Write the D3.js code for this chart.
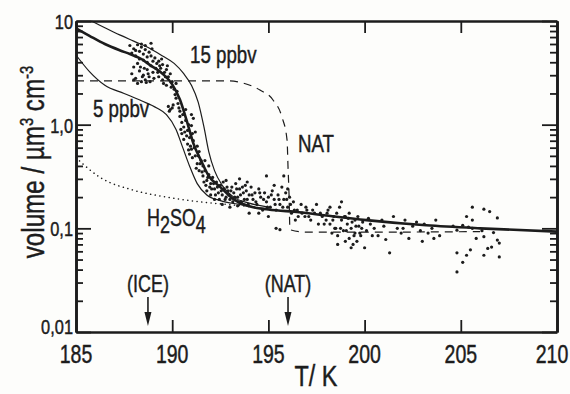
<!DOCTYPE html>
<html>
<head>
<meta charset="utf-8">
<script src="https://cdn.jsdelivr.net/npm/d3@7"></script>
<style>
  body { margin: 0; background: #fdfdfb; }
  svg { display: block; }
  text { font-family: "Liberation Sans", Arial, sans-serif; fill: #1c1c1c; stroke: #1c1c1c; stroke-width: 0.45; }
</style>
</head>
<body>
<script>
// axis ticks
const xTicks = [185, 190, 195, 200, 205, 210];
const yTicks = [0.01, 0.1, 1, 10];
const yTickLabels = ["0,01", "0,1", "1,0", "10"];

// model curves [T (K), volume (µm³ cm⁻³)]
const curve10 = [[185, 8.5], [185.7, 7.2], [186.5, 6.0], [187.3, 5.2], [187.8, 4.8], [188.4, 4.3],
  [188.85, 3.75], [189.5, 3.1], [190.0, 2.45], [190.4, 1.75], [190.75, 1.1], [191.1, 0.66],
  [191.5, 0.45], [191.9, 0.32], [192.5, 0.25], [193.2, 0.19], [194.0, 0.163], [195.0, 0.152],
  [196.6, 0.143], [198.0, 0.133], [200.1, 0.12], [203.2, 0.107], [206.0, 0.1], [210, 0.093]];
const curve5 = [[185, 4.7], [185.7, 3.25], [186.5, 2.4], [187.5, 2.0], [188.4, 1.7], [189.2, 1.45],
  [189.7, 1.25], [190.2, 0.9], [190.55, 0.6], [190.9, 0.4], [191.3, 0.27], [191.8, 0.21],
  [192.5, 0.185], [193.5, 0.17], [194.5, 0.158], [195.5, 0.15]];
const curve15 = [[185.8, 10], [186.5, 8.6], [187.3, 7.3], [188.0, 6.4], [188.8, 5.5], [189.5, 4.6],
  [190.1, 3.9], [190.6, 3.1], [191.0, 2.4], [191.35, 1.65], [191.65, 0.95], [191.9, 0.55],
  [192.2, 0.36], [192.6, 0.26], [193.2, 0.2], [194.0, 0.175], [195.0, 0.16]];
const curveH2SO4 = [[185, 0.48], [186.25, 0.31], [187.96, 0.234], [189.73, 0.2], [191.45, 0.18],
  [193.16, 0.168], [194.56, 0.158]];
const curveNAT = [[185, 2.64], [193.0, 2.64], [193.68, 2.52], [194.56, 2.16], [195.24, 1.73],
  [195.7, 1.19], [195.97, 0.71], [196.02, 0.39], [196.07, 0.22], [196.12, 0.097], [197, 0.092],
  [201, 0.092], [206, 0.093]];

// marked temperatures
const arrowMarks = [["(ICE)", 188.74], ["(NAT)", 196.02]];

// measured particle volumes [T, volume]
const particles = [
  [187.8, 5.8], [187.9, 4.9], [188.0, 5.4], [188.1, 4.6], [188.2, 5.9], [188.3, 5.1], [188.3, 4.3],
  [188.4, 5.6], [188.5, 4.8], [188.6, 5.3], [188.7, 4.5], [188.8, 5.0], [188.9, 6.1], [188.2, 3.9],
  [188.0, 3.6], [187.9, 3.1], [188.1, 2.8], [188.3, 3.3], [188.4, 2.6], [188.5, 3.0], [188.6, 2.7],
  [188.7, 3.4], [188.8, 2.9], [188.9, 3.7], [189.0, 3.2], [188.2, 2.5], [188.0, 2.7],
  [188.1, 5.2], [188.4, 6.0], [188.6, 5.8], [188.5, 4.2], [188.7, 4.0], [188.9, 4.6], [188.95, 5.4],
  [189.0, 4.1], [188.35, 3.6], [188.55, 3.5], [188.75, 3.1], [188.45, 2.9], [188.65, 2.55], [188.85, 2.6],
  [189.05, 2.8], [189.15, 3.5], [189.25, 3.2], [189.35, 3.7], [189.45, 4.3], [189.55, 2.5], [189.65, 2.9],
  [189.75, 3.7], [189.95, 2.3], [190.15, 1.95], [190.25, 2.1],
  [189.1, 4.4], [189.2, 3.9], [189.3, 4.1], [189.4, 3.5], [189.5, 3.8], [189.6, 3.2], [189.7, 3.4],
  [189.8, 2.9], [189.9, 3.1], [190.0, 2.6], [189.5, 2.7], [189.7, 2.4], [190.1, 2.2], [190.2, 2.5],
  [189.3, 2.9], [189.8, 1.5], [189.9, 1.4], [190.0, 1.45], [189.85, 1.35], [190.05, 1.55],
  [190.2, 1.8], [190.3, 1.6], [190.4, 1.2], [190.5, 1.05], [190.6, 0.95], [190.5, 0.82], [190.7, 1.1],
  [190.8, 0.88], [190.9, 0.75], [191.0, 0.98], [190.6, 0.72], [190.8, 0.65], [191.1, 0.7], [191.0, 0.58],
  [191.2, 0.85], [191.3, 0.62], [190.9, 0.52], [191.2, 0.5], [191.4, 0.55], [191.5, 0.45], [191.3, 0.42],
  [191.6, 0.4], [191.4, 0.36], [190.4, 1.35], [190.7, 1.4], [191.1, 1.15], [191.0, 1.25],
  [190.35, 1.45], [190.45, 0.9], [190.55, 1.25], [190.65, 0.85], [190.75, 0.78], [190.85, 1.0],
  [190.95, 0.62], [191.05, 0.48], [191.15, 0.6], [191.25, 0.38], [191.35, 0.5], [191.45, 0.42],
  [191.55, 0.35], [190.85, 0.57], [191.05, 0.82],
  [191.6, 0.32], [191.7, 0.36], [191.8, 0.29], [191.9, 0.33], [192.0, 0.27], [192.1, 0.31], [192.2, 0.24],
  [192.3, 0.28], [192.4, 0.22], [192.5, 0.26], [192.6, 0.21], [192.7, 0.24], [192.8, 0.2], [192.9, 0.23],
  [193.0, 0.19], [193.1, 0.25], [193.2, 0.22], [193.3, 0.27], [193.4, 0.2], [193.5, 0.24], [193.6, 0.18],
  [193.7, 0.22], [193.8, 0.26], [193.9, 0.19], [194.0, 0.21], [192.2, 0.19], [192.6, 0.17], [193.0, 0.16],
  [193.4, 0.165], [192.0, 0.21], [191.8, 0.23], [193.5, 0.3], [193.9, 0.28], [192.8, 0.29], [191.7, 0.45],
  [191.9, 0.4],
  [191.65, 0.28], [191.75, 0.26], [191.85, 0.31], [191.95, 0.25], [192.05, 0.24], [192.15, 0.27],
  [192.25, 0.21], [192.35, 0.25], [192.45, 0.19], [192.55, 0.23], [192.65, 0.28], [192.75, 0.19],
  [192.85, 0.25], [192.95, 0.21], [193.05, 0.23], [193.15, 0.18], [193.25, 0.2], [193.35, 0.24],
  [193.45, 0.18], [193.55, 0.21], [193.65, 0.25], [193.75, 0.19], [193.85, 0.23], [193.95, 0.17],
  [194.1, 0.25], [194.2, 0.19], [194.3, 0.22], [194.4, 0.17], [194.5, 0.24], [194.6, 0.2], [194.7, 0.15],
  [194.8, 0.22], [194.9, 0.18], [195.0, 0.2], [195.1, 0.16], [195.2, 0.23], [195.3, 0.19], [195.4, 0.15],
  [195.5, 0.21], [195.6, 0.17], [195.7, 0.25], [195.8, 0.19], [195.9, 0.22], [196.0, 0.16], [196.1, 0.2],
  [196.2, 0.14], [196.3, 0.18], [196.5, 0.15], [196.7, 0.17], [196.9, 0.13], [194.9, 0.32], [195.8, 0.32],
  [195.4, 0.1], [195.6, 0.097], [194.5, 0.14], [195.0, 0.13], [194.0, 0.14], [196.4, 0.12], [195.3, 0.26],
  [196.0, 0.24],
  [194.15, 0.21], [194.35, 0.18], [194.55, 0.22], [194.75, 0.19], [194.95, 0.16], [195.15, 0.21],
  [195.35, 0.17], [195.55, 0.19], [195.75, 0.16], [195.95, 0.19], [196.15, 0.17], [196.35, 0.15],
  [196.55, 0.13], [196.75, 0.14], [196.95, 0.16],
  [197.0, 0.15], [197.2, 0.12], [197.4, 0.14], [197.6, 0.11], [197.8, 0.13], [198.0, 0.12], [198.1, 0.15],
  [198.2, 0.11], [198.3, 0.09], [198.4, 0.13], [198.5, 0.1], [198.6, 0.085], [198.7, 0.16], [198.8, 0.18],
  [198.8, 0.12], [198.9, 0.095], [199.0, 0.075], [199.1, 0.11], [199.2, 0.14], [199.2, 0.08], [199.3, 0.1],
  [199.4, 0.07], [199.5, 0.12], [199.5, 0.09], [199.6, 0.075], [199.7, 0.105], [199.8, 0.085], [199.9, 0.115],
  [200.0, 0.065], [200.1, 0.095], [200.3, 0.11], [200.4, 0.085], [200.5, 0.1], [198.2, 0.16], [197.5, 0.17],
  [199.0, 0.13], [198.6, 0.07], [199.3, 0.065],
  [197.1, 0.13], [197.3, 0.15], [197.7, 0.14], [197.9, 0.11], [198.05, 0.14], [198.35, 0.12], [198.45, 0.1],
  [198.55, 0.14], [198.75, 0.1], [198.95, 0.13], [199.05, 0.095], [199.15, 0.125], [199.35, 0.115],
  [199.45, 0.085], [199.55, 0.105], [199.65, 0.13], [199.75, 0.09], [199.85, 0.1], [200.2, 0.125],
  [200.7, 0.085], [200.9, 0.12], [201.1, 0.078], [201.3, 0.058], [201.5, 0.13], [201.7, 0.1], [201.9, 0.09],
  [202.1, 0.12], [202.3, 0.08], [202.5, 0.105], [202.7, 0.115], [202.9, 0.095], [203.1, 0.11], [203.3, 0.09],
  [203.5, 0.1], [203.7, 0.12], [203.9, 0.085], [201.0, 0.105], [202.0, 0.1], [203.0, 0.075], [203.6, 0.08],
  [205.6, 0.16], [206.2, 0.153], [206.5, 0.145], [206.9, 0.126], [205.3, 0.13], [205.6, 0.12], [204.8, 0.058],
  [204.8, 0.038], [205.1, 0.047], [205.3, 0.055], [205.5, 0.062], [206.2, 0.055], [206.4, 0.064],
  [206.6, 0.066], [207.0, 0.053], [207.0, 0.072], [206.2, 0.083], [205.8, 0.08], [205.6, 0.1], [205.4, 0.103],
  [205.1, 0.107], [206.7, 0.091], [206.9, 0.077], [206.1, 0.095], [204.6, 0.105], [204.8, 0.096]
];

const width = 570;
const height = 394;
const margin = { top: 21, right: 13, bottom: 62, left: 76 };
const ink = "#1c1c1c";
const squeeze = 0.78; // condensed lettering

const x = d3.scaleLinear().domain([185, 210]).range([margin.left, width - margin.right]);
const y = d3.scaleLog().domain([0.01, 10]).range([height - margin.bottom, margin.top]);

const svg = d3.select("body").append("svg")
  .attr("width", width)
  .attr("height", height);

// text drawn in a narrow style
function label(px, py, txt, size, anchor = "start", rotate = 0) {
  const g = svg.append("g")
    .attr("transform", `translate(${px},${py}) rotate(${rotate}) scale(${squeeze},1)`);
  const t = g.append("text")
    .attr("text-anchor", anchor)
    .attr("font-size", size);
  if (typeof txt === "string") {
    t.text(txt);
  } else {
    txt.forEach(([s, dy, fs]) => t.append("tspan").attr("dy", dy).attr("font-size", fs || size).text(s));
  }
  return t;
}

const minorTicks = [];
[0.01, 0.1, 1].forEach(d => { for (let k = 2; k <= 9; k++) minorTicks.push(d * k); });

function styleAxis(g) {
  g.selectAll("path.domain").attr("stroke", ink).attr("stroke-width", 2.6);
  g.selectAll(".tick line").attr("stroke", ink).attr("stroke-width", 1.8);
  g.selectAll(".tick text").remove();
}

// bottom & top
svg.append("g").attr("transform", `translate(0,${height - margin.bottom})`)
  .call(d3.axisBottom(x).tickValues(xTicks).tickSize(-12).tickSizeOuter(0)).call(styleAxis);
svg.append("g").attr("transform", `translate(0,${margin.top})`)
  .call(d3.axisTop(x).tickValues(xTicks).tickSize(-12).tickSizeOuter(0)).call(styleAxis);
// left & right, major then minor
svg.append("g").attr("transform", `translate(${margin.left},0)`)
  .call(d3.axisLeft(y).tickValues(yTicks).tickSize(-15).tickSizeOuter(0)).call(styleAxis);
svg.append("g").attr("transform", `translate(${margin.left},0)`)
  .call(d3.axisLeft(y).tickValues(minorTicks).tickSize(-7).tickSizeOuter(0)).call(styleAxis);
svg.append("g").attr("transform", `translate(${width - margin.right},0)`)
  .call(d3.axisRight(y).tickValues(yTicks).tickSize(-15).tickSizeOuter(0)).call(styleAxis);
svg.append("g").attr("transform", `translate(${width - margin.right},0)`)
  .call(d3.axisRight(y).tickValues(minorTicks).tickSize(-7).tickSizeOuter(0)).call(styleAxis);

// tick labels
xTicks.forEach(t => label(Math.min(x(t), 552), height - margin.bottom + 31, String(t), 25, "middle"));
yTicks.forEach((t, i) => label(margin.left - 3, y(t) + 8 - (i === 0 ? 6 : 0), yTickLabels[i], 21, "end"));

// axis titles
label(316, 386, "T/ K", 30, "middle");
label(44, 162, [["volume / µm", 0], ["3", -11, 19], [" cm", 11], ["-3", -11, 19]], 31, "middle", -90);

const line = d3.line().x(d => x(d[0])).y(d => y(d[1])).curve(d3.curveMonotoneX);

const plot = svg.append("g").attr("fill", "none").attr("stroke", ink);
plot.append("path").attr("d", line(curveH2SO4)).attr("stroke-width", 1.5)
  .attr("stroke-dasharray", "0.1,4.6").attr("stroke-linecap", "round");
plot.append("path").attr("d", line(curveNAT)).attr("stroke-width", 1.2).attr("stroke-dasharray", "8,6");
plot.append("path").attr("d", line(curve5)).attr("stroke-width", 1.2);
plot.append("path").attr("d", line(curve15)).attr("stroke-width", 1.2);
plot.append("path").attr("d", line(curve10)).attr("stroke-width", 2.6);

svg.append("g").attr("fill", ink)
  .selectAll("circle")
  .data(particles)
  .join("circle")
  .attr("cx", d => x(d[0]))
  .attr("cy", d => y(d[1]))
  .attr("r", 1.6);

// curve labels
label(190, 63, "15 ppbv", 24);
label(93, 117, "5 ppbv", 24);
label(298, 152, "NAT", 24);
label(147, 226, [["H", 0], ["2", 7], ["SO", -7], ["4", 7]], 23);

// arrows for freezing temperatures
arrowMarks.forEach(([name, t]) => {
  const ax = x(t);
  label(ax, 292, name, 23, "middle");
  svg.append("line").attr("x1", ax).attr("x2", ax).attr("y1", 297).attr("y2", 318)
    .attr("stroke", ink).attr("stroke-width", 1.6);
  svg.append("path").attr("d", `M${ax - 3.5},312 L${ax + 3.5},312 L${ax},326 Z`).attr("fill", ink);
});
</script>
</body>
</html>
